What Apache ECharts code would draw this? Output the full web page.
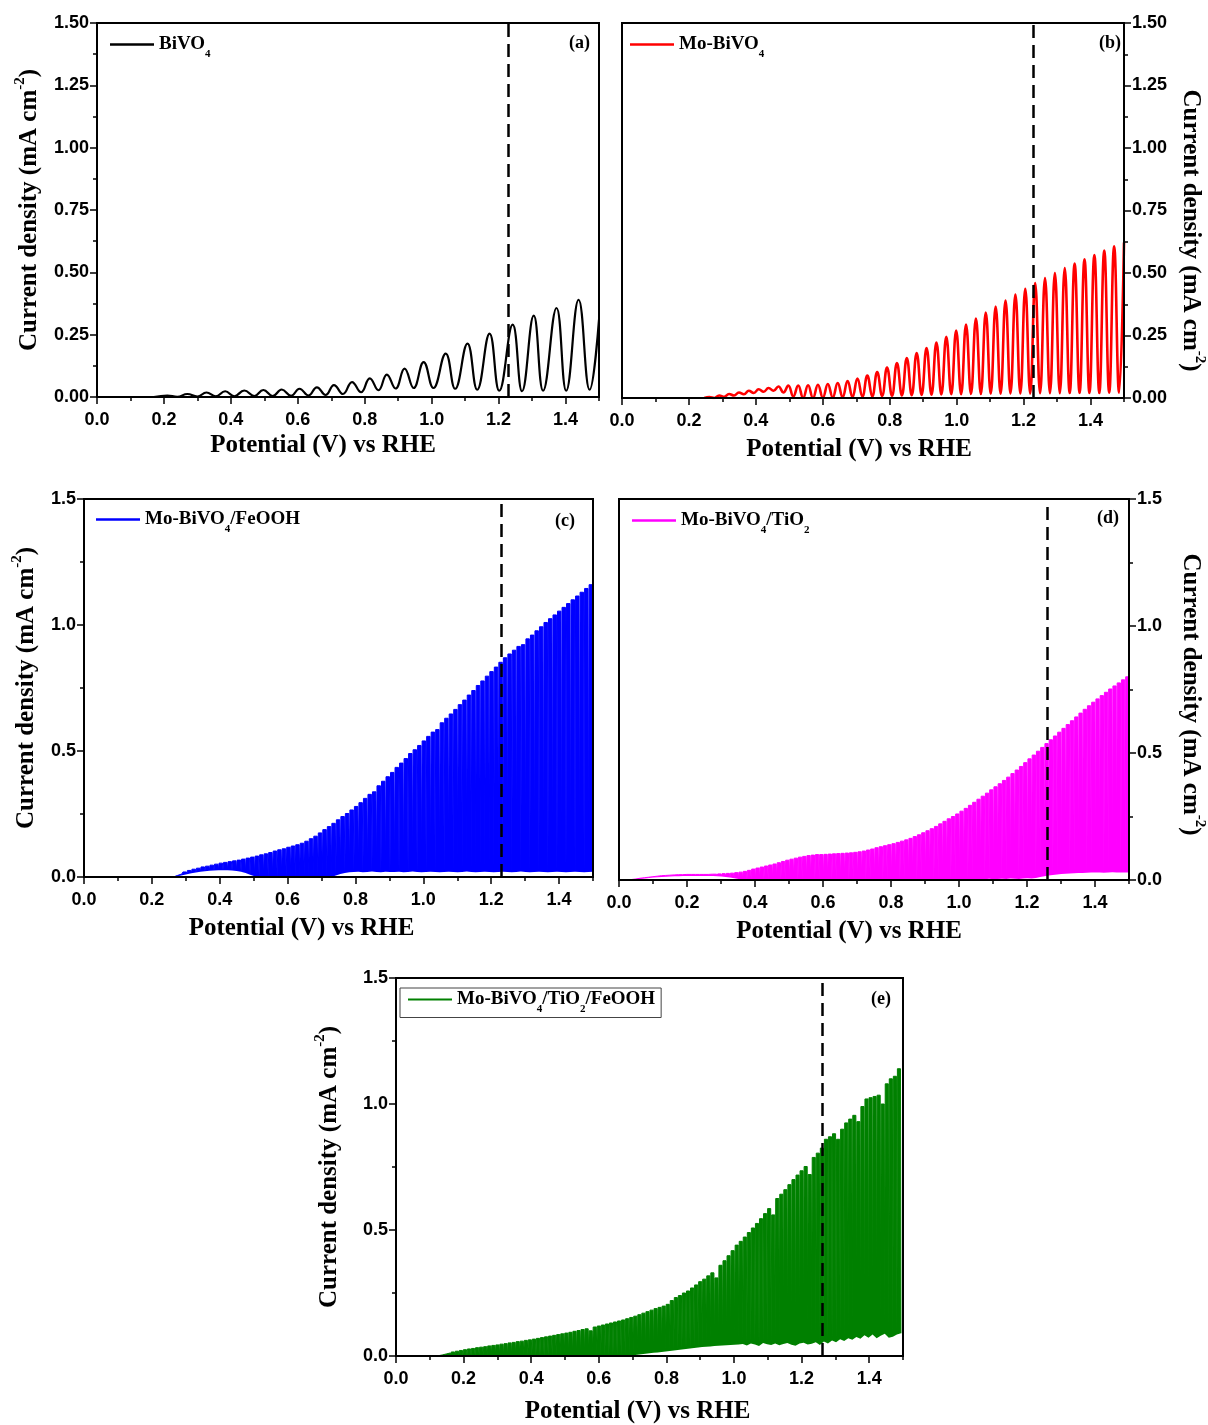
<!DOCTYPE html>
<html><head><meta charset="utf-8">
<script src="https://cdn.jsdelivr.net/npm/echarts@6/dist/echarts.min.js"></script>
<style>html,body{margin:0;padding:0;background:#fff}#c{width:1208px;height:1425px}</style>
</head><body><div id="c"></div>
<script>
// ---------- DATA ----------
// (a) BiVO4 : potential / current pairs along the chopped sweep
const aV = [0.17,0.21,0.24,0.27,0.30,0.327,0.355,0.383,0.41,0.44,0.47,0.497,0.525,0.552,0.58,0.605,0.632,0.657,0.683,0.708,0.735,0.762,0.789,0.815,0.841,0.866,0.892,0.919,0.946,0.976,1.005,1.042,1.07,1.107,1.136,1.173,1.202,1.242,1.27,1.305,1.333,1.373,1.402,1.439,1.472,1.5];
const aJ = [0,0.006,0.001,0.012,0.002,0.018,0.003,0.023,0.003,0.026,0.004,0.028,0.004,0.030,0.005,0.033,0.006,0.039,0.008,0.048,0.012,0.060,0.019,0.075,0.027,0.090,0.034,0.114,0.036,0.140,0.036,0.174,0.033,0.214,0.029,0.254,0.025,0.290,0.023,0.326,0.025,0.357,0.025,0.390,0.029,0.31];

// (b) Mo-BiVO4 : chopping start / period (V), light and dark currents per cycle
const bStart = 0.261, bStep = 0.0295;
const bLight = [0.004,0.010,0.016,0.022,0.029,0.035,0.040,0.046,0.050,0.050,0.051,0.053,0.056,0.060,0.068,0.078,0.090,0.104,0.122,0.140,0.160,0.180,0.200,0.222,0.245,0.270,0.294,0.318,0.342,0.366,0.390,0.414,0.437,0.460,0.480,0.500,0.520,0.538,0.555,0.572,0.590,0.607,0.622];
const bDark = [0.000,0.000,0.005,0.010,0.015,0.020,0.025,0.029,0.022,0.006,0.000,0.000,0.001,0.002,0.003,0.004,0.005,0.006,0.008,0.009,0.010,0.011,0.012,0.013,0.014,0.015,0.015,0.016,0.016,0.017,0.017,0.018,0.018,0.018,0.019,0.019,0.019,0.020,0.020,0.020,0.020,0.021,0.021];

// (c) Mo-BiVO4/FeOOH
const cStart = 0.27, cStep = 0.0133;
const cLight = [0.006,0.012,0.020,0.026,0.031,0.035,0.040,0.043,0.047,0.051,
 0.055,0.058,0.061,0.064,0.067,0.071,0.075,0.079,0.083,0.088,
 0.092,0.097,0.103,0.108,0.112,0.118,0.123,0.128,0.134,0.142,
 0.152,0.162,0.175,0.188,0.200,0.213,0.227,0.240,0.252,0.266,
 0.280,0.295,0.312,0.328,0.338,0.362,0.380,0.398,0.415,0.435,
 0.452,0.470,0.490,0.505,0.522,0.540,0.558,0.575,0.585,0.612,
 0.630,0.647,0.665,0.684,0.702,0.722,0.740,0.760,0.778,0.797,
 0.815,0.833,0.852,0.870,0.885,0.900,0.915,0.922,0.945,0.960,
 0.977,0.993,1.010,1.025,1.040,1.055,1.070,1.085,1.100,1.115,
 1.130,1.145,1.160];
const cDark = [0.000,0.003,0.007,0.011,0.015,0.018,0.021,0.023,0.025,0.026,
 0.027,0.027,0.027,0.026,0.024,0.021,0.016,0.009,0.003,0.000,
 0.000,0.001,0.000,0.000,0.002,0.000,0.000,0.001,0.000,0.000,
 0.002,0.000,0.000,0.001,0.000,0.000,0.006,0.012,0.016,0.019,
 0.020,0.021,0.019,0.020,0.022,0.020,0.019,0.021,0.020,0.020,
 0.021,0.019,0.020,0.022,0.020,0.019,0.020,0.021,0.020,0.019,
 0.020,0.021,0.020,0.019,0.020,0.022,0.020,0.019,0.020,0.021,
 0.020,0.019,0.020,0.021,0.020,0.019,0.020,0.022,0.020,0.019,
 0.020,0.021,0.020,0.019,0.020,0.021,0.020,0.019,0.020,0.021,
 0.020,0.019,0.020,0.021];

// (d) Mo-BiVO4/TiO2
const dStart = 0.02, dStep = 0.0125;
const dLight = [0.001,0.002,0.004,0.007,0.009,0.011,0.013,0.015,0.017,0.018,
 0.019,0.020,0.021,0.021,0.022,0.022,0.022,0.022,0.022,0.022,
 0.023,0.023,0.024,0.025,0.026,0.027,0.029,0.031,0.034,0.038,
 0.043,0.047,0.051,0.055,0.059,0.063,0.068,0.073,0.078,0.082,
 0.086,0.090,0.093,0.096,0.098,0.100,0.100,0.101,0.102,0.103,
 0.104,0.105,0.106,0.107,0.109,0.111,0.114,0.118,0.122,0.127,
 0.131,0.135,0.139,0.143,0.148,0.153,0.158,0.164,0.171,0.178,
 0.186,0.194,0.202,0.211,0.221,0.231,0.241,0.250,0.260,0.271,
 0.282,0.294,0.306,0.318,0.330,0.342,0.355,0.367,0.379,0.392,
 0.405,0.419,0.433,0.447,0.462,0.477,0.492,0.507,0.522,0.537,
 0.552,0.567,0.582,0.597,0.612,0.627,0.642,0.657,0.672,0.686,
 0.700,0.713,0.726,0.739,0.752,0.764,0.776,0.788,0.800];
const dDark = [0.000,0.000,0.000,0.002,0.004,0.006,0.008,0.010,0.011,0.012,
 0.013,0.014,0.015,0.015,0.016,0.016,0.016,0.016,0.016,0.016,
 0.016,0.016,0.015,0.014,0.012,0.010,0.007,0.004,0.002,
 0.001,0.002,0.001,0.000,0.002,0.001,0.003,0.001,0.002,0.001,
 0.002,0.001,0.000,0.002,0.001,0.002,0.003,0.001,0.002,0.001,
 0.002,0.001,0.002,0.003,0.001,0.002,0.001,0.002,0.001,0.003,
 0.002,0.001,0.002,0.001,0.003,0.002,0.001,0.002,0.003,0.002,
 0.001,0.002,0.003,0.002,0.001,0.003,0.002,0.004,0.002,0.003,
 0.003,0.002,0.004,0.003,0.002,0.004,0.003,0.005,0.003,0.004,
 0.005,0.004,0.006,0.005,0.004,0.006,0.007,0.006,
 0.008,0.012,0.015,0.018,0.020,0.022,0.024,0.025,0.026,0.027,
 0.028,0.028,0.029,0.030,0.030,0.030,0.029,0.030,0.031,0.030,
 0.030,0.030,0.030];

// (e) Mo-BiVO4/TiO2/FeOOH
const eStart = 0.12, eStep = 0.012;
const eLight = [0.001,0.004,0.008,0.012,0.016,0.019,0.022,0.025,0.028,0.030,
 0.033,0.035,0.037,0.040,0.042,0.044,0.047,0.049,0.052,0.054,
 0.057,0.059,0.062,0.064,0.067,0.070,0.073,0.076,0.079,0.082,
 0.085,0.088,0.091,0.094,0.098,0.101,0.105,0.108,0.100,0.115,
 0.119,0.123,0.127,0.131,0.135,0.139,0.143,0.148,0.153,0.158,
 0.164,0.170,0.176,0.182,0.188,0.193,0.198,0.205,0.220,0.232,
 0.240,0.250,0.258,0.270,0.282,0.295,0.305,0.318,0.330,0.310,
 0.360,0.378,0.398,0.418,0.440,0.455,0.472,0.490,0.508,0.526,
 0.545,0.565,0.585,0.560,0.625,0.642,0.660,0.680,0.700,0.718,
 0.735,0.752,0.720,0.788,0.805,0.825,0.860,0.870,0.882,0.860,
 0.900,0.925,0.940,0.955,0.930,0.990,1.020,1.025,1.030,1.035,
 1.000,1.080,1.100,1.110,1.140];
const eDark = [0.000,
 0.002,0.001,0.003,0.002,0.001,0.002,0.003,0.002,0.001,0.002,
 0.003,0.002,0.001,0.002,0.003,0.002,0.001,0.002,0.003,0.002,
 0.001,0.002,0.003,0.002,0.001,0.002,0.003,0.002,0.001,0.002,
 0.003,0.002,0.001,0.002,0.003,0.002,0.001,0.002,0.003,0.002,
 0.001,0.002,0.003,0.002,0.003,0.002,0.003,0.004,0.003,
 0.005,0.007,0.009,0.011,0.013,0.014,0.016,0.018,0.020,0.022,0.024,0.026,0.028,0.030,0.032,0.034,0.036,0.037,0.038,0.040,0.041,0.042,0.043,0.044,0.045,0.046,
 0.048,0.042,0.050,0.046,0.040,0.052,0.047,0.044,0.050,0.043,0.048,0.052,0.045,0.041,0.050,0.053,0.046,0.049,0.055,0.044,
 0.058,0.050,0.062,0.055,0.066,0.060,0.070,0.064,0.075,0.068,0.082,0.072,0.085,0.070,0.080,0.088,0.072,0.076,0.085,0.090];

const names = ['BiVO4','Mo-BiVO4','Mo-BiVO4/FeOOH','Mo-BiVO4/TiO2','Mo-BiVO4/TiO2/FeOOH'];
const colors = ['#000000','#ff0000','#0000ff','#ff00ff','#008000'];
const panelTags = ['(a)','(b)','(c)','(d)','(e)'];
const dashV = [1.23, 1.23, 1.23, 1.265, 1.265];
const xTitle = 'Potential (V) vs RHE';
const yTitle = '{m|Current density (mA cm}{s|-2}{m|)}';

// ---------- build ----------
// smooth chopped trace: dark value before each light value
function chop(start, step, light, dark) {
  const pts = [];
  for (let i = 0; i < dark.length; i++) {
    pts.push([+(start + step * (i - 0.5)).toFixed(5), dark[i]]);
    if (i < light.length) pts.push([+(start + step * i).toFixed(5), light[i]]);
  }
  return pts;
}
// dense chopped trace: light plateau per cycle, narrow dark notch between cycles
function chopDense(start, step, light, dark, notch) {
  const pts = [];
  for (let i = 0; i < dark.length; i++) {
    const r = start + step * (i - 0.5);
    pts.push([+r.toFixed(5), dark[i]]);
    if (i < light.length) {
      pts.push([+(r + notch * step).toFixed(5), light[i]]);
      pts.push([+(r + (1 - notch) * step).toFixed(5), light[i]]);
    }
  }
  return pts;
}
function darkTrace(start, step, dark) {
  return dark.map((d, i) => [+(start + step * (i - 0.5)).toFixed(5), d]);
}
const seriesData = [
  aV.map((v, i) => [v, aJ[i]]),
  chop(bStart, bStep, bLight, bDark),
  chopDense(cStart, cStep, cLight, cDark, 0.12),
  chopDense(dStart, dStep, dLight, dDark, 0.12),
  chopDense(eStart, eStep, eLight, eDark, 0.12)
];
const darkData = [null, null,
  darkTrace(cStart, cStep, cDark),
  darkTrace(dStart, dStep, dDark),
  darkTrace(eStart, eStep, eDark)
];

const serif = '"Liberation Serif","Times New Roman",serif';
const sans = '"Liberation Sans",Arial,sans-serif';

const grids = [
  {left: 97, top: 23, width: 502, height: 374},
  {left: 622, top: 23, width: 502, height: 375},
  {left: 84, top: 499, width: 509, height: 378},
  {left: 619, top: 499, width: 511, height: 381},
  {left: 396, top: 978, width: 507, height: 379}
];
const lay = [
  {ypos: 'left', yint: 0.25, dig: 2, xGap: 36, xShift: 50, yGap: 50, yRot: 90, yPad: 0, lw: 2.2, smooth: 0.45,
   leg: {left: 110, top: 35}, tag: {left: 569, top: 34}},
  {ypos: 'right', yint: 0.25, dig: 2, xGap: 39, xShift: 28, yGap: 49, yRot: -90, yPad: 40, lw: 2.6, smooth: 0.45,
   leg: {left: 630, top: 35}, tag: {left: 1099, top: 34}},
  {ypos: 'left', yint: 0.5, dig: 1, xGap: 39, xShift: 74, yGap: 40, yRot: 90, yPad: 0, lw: 1.0, smooth: false,
   leg: {left: 96, top: 510}, tag: {left: 555, top: 512}},
  {ypos: 'right', yint: 0.5, dig: 1, xGap: 39, xShift: 50, yGap: 44, yRot: -90, yPad: 10, lw: 1.0, smooth: false,
   leg: {left: 632, top: 511}, tag: {left: 1097, top: 509}},
  {ypos: 'left', yint: 0.5, dig: 1, xGap: 43, xShift: 24, yGap: 49, yRot: 90, yPad: 0, lw: 1.0, smooth: false,
   leg: {left: 400, top: 988}, tag: {left: 871, top: 990}}
];

const xAxes = [], yAxes = [], series = [], legends = [], titles = [];
lay.forEach((p, k) => {
  xAxes.push({
    gridIndex: k, type: 'value', min: 0, max: 1.5, interval: 0.2, position: 'bottom', z: 10,
    axisLine: {show: true, onZero: false, lineStyle: {color: '#000', width: 2}},
    axisTick: {show: true, length: 7, lineStyle: {color: '#000', width: 1.5}},
    splitLine: {show: false},
    axisLabel: {color: '#000', fontFamily: sans, fontWeight: 'bold', fontSize: 18, margin: 14,
      showMaxLabel: false, formatter: v => v.toFixed(1)},
    name: xTitle, nameLocation: 'middle', nameGap: p.xGap,
    nameTextStyle: {fontFamily: serif, fontWeight: 'bold', fontSize: 25, color: '#000', padding: [0, p.xShift, 0, 0]}
  });
  xAxes.push({
    gridIndex: k, type: 'value', min: 0, max: 1.5, interval: 0.1, position: 'bottom', z: 10,
    axisLine: {show: false}, axisLabel: {show: false}, splitLine: {show: false},
    axisTick: {show: true, length: 4, lineStyle: {color: '#000', width: 1.5}}
  });
  yAxes.push({
    gridIndex: k, type: 'value', min: 0, max: 1.5, interval: p.yint, position: p.ypos, z: 10,
    axisLine: {show: true, onZero: false, lineStyle: {color: '#000', width: 2}},
    axisTick: {show: true, length: 7, lineStyle: {color: '#000', width: 1.5}},
    minorTick: {show: true, splitNumber: 2, length: 4, lineStyle: {color: '#000', width: 1.5}},
    splitLine: {show: false}, minorSplitLine: {show: false},
    axisLabel: {color: '#000', fontFamily: sans, fontWeight: 'bold', fontSize: 18, margin: 8,
      formatter: v => v.toFixed(p.dig)},
    name: yTitle, nameLocation: 'middle', nameGap: p.yGap, nameRotate: p.yRot,
    nameTextStyle: {color: '#000', padding: [0, 0, 0, p.yPad],
      rich: {
        m: {fontFamily: serif, fontWeight: 'bold', fontSize: 25, color: '#000', lineHeight: 34, verticalAlign: 'middle'},
        s: {fontFamily: serif, fontWeight: 'bold', fontSize: 15, color: '#000', lineHeight: 16, verticalAlign: 'top'}
      }}
  });
  const dense = darkData[k] !== null;
  const mark = {silent: true, symbol: ['none', 'none'], label: {show: false},
    lineStyle: {color: '#000', type: [13, 7], width: 2.5},
    data: [{xAxis: dashV[k]}]};
  series.push({
    name: names[k], type: 'line', xAxisIndex: 2 * k, yAxisIndex: k,
    data: seriesData[k], showSymbol: false, symbol: 'none', smooth: p.smooth,
    color: colors[k], itemStyle: {color: colors[k]},
    lineStyle: {color: colors[k], width: p.lw}, clip: true, z: 2,
    areaStyle: dense ? {color: colors[k], opacity: 1, origin: 'start'} : null,
    markLine: dense ? undefined : mark
  });
  if (dense) {
    series.push({
      name: names[k] + ' dark', type: 'line', xAxisIndex: 2 * k, yAxisIndex: k,
      data: darkData[k], showSymbol: false, symbol: 'none', silent: true, z: 3,
      lineStyle: {opacity: 0, width: 0}, areaStyle: {color: '#ffffff', opacity: 1, origin: 'start'},
      clip: true, markLine: mark
    });
  }
  legends.push({
    data: [names[k]], left: p.leg.left, top: p.leg.top, orient: 'horizontal',
    icon: 'rect', itemWidth: 44, itemHeight: k === 4 ? 1.8 : 2.6, itemGap: 0,
    padding: k === 4 ? [2, 6, 3, 8] : 0,
    borderColor: k === 4 ? '#444' : 'transparent', borderWidth: k === 4 ? 1 : 0,
    selectedMode: false,
    formatter: n => '{m|' + n.replace(/(\d)/g, '}{s|$1}{m|') + '}',
    textStyle: {color: '#000', fontFamily: serif, fontWeight: 'bold', fontSize: 19,
      rich: {
        m: {fontFamily: serif, fontWeight: 'bold', fontSize: 19, color: '#000', lineHeight: 30, verticalAlign: 'middle'},
        s: {fontFamily: serif, fontWeight: 'bold', fontSize: 11, color: '#000', lineHeight: 22, verticalAlign: 'bottom'}
      }}
  });
  titles.push({text: panelTags[k], left: p.tag.left, top: p.tag.top, padding: 0,
    textStyle: {fontFamily: serif, fontWeight: 'bold', fontSize: 18, color: '#000'}});
});

const chart = echarts.init(document.getElementById('c'), null, {renderer: 'canvas'});
chart.setOption({
  backgroundColor: '#ffffff',
  animation: false,
  title: titles,
  legend: legends,
  grid: grids.map(g => Object.assign({show: true, z: 10, borderColor: '#000', borderWidth: 2, backgroundColor: 'transparent'}, g)),
  xAxis: xAxes,
  yAxis: yAxes,
  series: series
});
</script></body></html>
